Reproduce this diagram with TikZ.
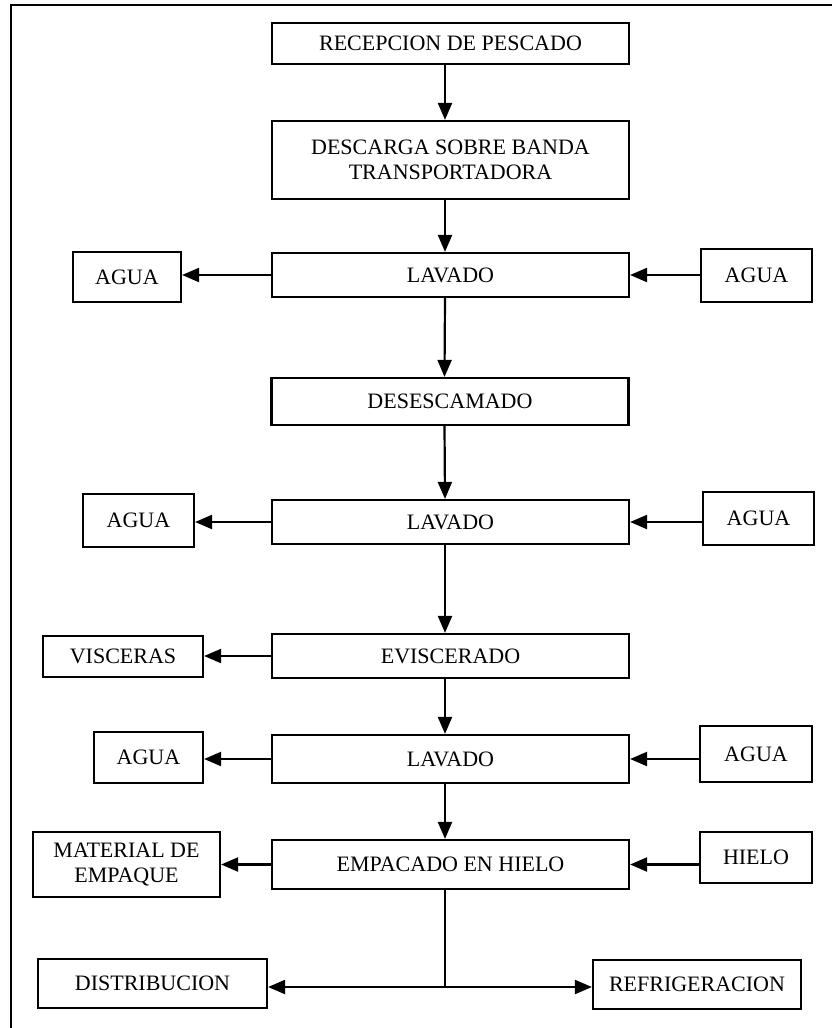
\documentclass[tikz,border=0pt]{standalone}
\usepackage{fontspec}
\setmainfont{Liberation Serif}
\usetikzlibrary{arrows.meta}
\begin{document}
\begin{tikzpicture}[x=1pt,y=-1pt,
  box/.style={draw, line width=2.2pt, inner sep=0pt, align=center,
    font=\fontsize{22}{25}\selectfont},
  proc/.style={box, minimum width=357pt},
  flow/.style={line width=2.2pt, -{Triangle[length=17pt,width=14pt]}},
  link/.style={line width=2.2pt}]
\useasboundingbox (0,0) rectangle (832,1028);
% page frame, running off the right and bottom edges
\begin{scope}
\clip (0,0) rectangle (832,1028);
\draw[line width=2.6pt] (11,1040) -- (11,5) -- (845,5);
\end{scope}

% main process column
\node[proc, minimum height=41pt] (rec)   at (450.5,43.5) {RECEPCION DE PESCADO};
\node[proc, minimum height=78pt] (desc)  at (450.5,160)  {DESCARGA SOBRE BANDA\\TRANSPORTADORA};
\node[proc, minimum height=44pt] (lav1)  at (450.5,275)  {LAVADO};
\node[proc, minimum height=47pt] (deses) at (450,401.5)  {DESESCAMADO};
\node[proc, minimum height=44pt] (lav2)  at (450.5,522)  {LAVADO};
\node[proc, minimum height=44pt] (evis)  at (450.5,656)  {EVISCERADO};
\node[proc, minimum height=48pt] (lav3)  at (450.5,759)  {LAVADO};
\node[proc, minimum height=49pt] (emp)   at (450.5,864.5) {EMPACADO EN HIELO};

% side streams
\node[box, minimum width=108pt, minimum height=50pt] (aguaL1) at (127,277)   {AGUA};
\node[box, minimum width=111pt, minimum height=53pt] (aguaR1) at (756.5,275.5) {AGUA};
\node[box, minimum width=111pt, minimum height=53pt] (aguaL2) at (138.5,520.5) {AGUA};
\node[box, minimum width=111pt, minimum height=53pt] (aguaR2) at (758.5,518.5) {AGUA};
\node[box, minimum width=160pt, minimum height=41pt] (visc)   at (123,656.5) {VISCERAS};
\node[box, minimum width=109pt, minimum height=51pt] (aguaL3) at (148.5,757.5) {AGUA};
\node[box, minimum width=112pt, minimum height=56pt] (aguaR3) at (756,754)   {AGUA};
\node[box, minimum width=187pt, minimum height=65pt] (mat)    at (126.5,864.5) {MATERIAL DE\\EMPAQUE};
\node[box, minimum width=112pt, minimum height=51pt] (hielo)  at (756,857.5) {HIELO};
\node[box, minimum width=229pt, minimum height=49pt] (dist)   at (152.5,983.5) {DISTRIBUCION};
\node[box, minimum width=208pt, minimum height=49pt] (refr)   at (697,984.5) {REFRIGERACION};

% main flow, running a little left of the box centres
\tikzset{col/.style={xshift=-5.5pt}}
\draw[flow] ([col]rec.south)   -- ([col]desc.north);
\draw[flow] ([col]desc.south)  -- ([col]lav1.north);
\draw[flow] ([col]lav1.south)  -- ([col]deses.north);
\draw[flow] ([col]deses.south) -- ([col]lav2.north);
\draw[flow] ([col]lav2.south)  -- ([col]evis.north);
\draw[flow] ([col]evis.south)  -- ([col]lav3.north);
\draw[flow] ([col]lav3.south)  -- ([col]emp.north);

% outputs to the left, inputs from the right
\draw[flow] (lav1.west) -- (lav1.west -| aguaL1.east);
\draw[flow] (aguaR1.west |- lav1.east) -- (lav1.east);
\draw[flow] (lav2.west) -- (lav2.west -| aguaL2.east);
\draw[flow] (aguaR2.west |- lav2.east) -- (lav2.east);
\draw[flow] (evis.west) -- (evis.west -| visc.east);
\draw[flow] (lav3.west) -- (lav3.west -| aguaL3.east);
\draw[flow] (aguaR3.west |- lav3.east) -- (lav3.east);
\draw[flow] (emp.west) -- (emp.west -| mat.east);
\draw[flow] (hielo.west |- emp.east) -- (emp.east);

% final split
\coordinate (stem) at ([col]emp.south);
\coordinate (split) at (stem |- 0,987);
\draw[link] (stem) -- (split);
\draw[flow] (split) -- (split -| dist.east);
\draw[flow] (split) -- (split -| refr.west);
\end{tikzpicture}
\end{document}
